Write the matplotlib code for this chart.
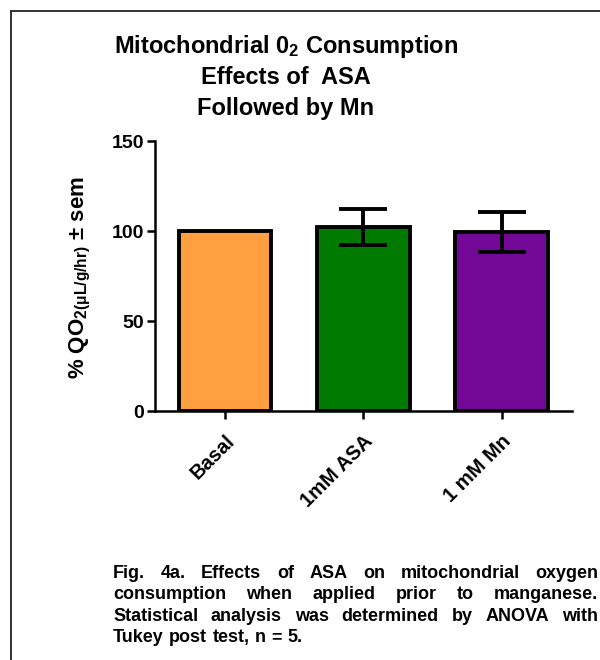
import matplotlib
matplotlib.use("Agg")
import matplotlib.pyplot as plt
from matplotlib.patches import Rectangle

plt.rcParams['font.family'] = ['Liberation Sans', 'DejaVu Sans']
plt.rcParams['font.weight'] = 'bold'
plt.rcParams['mathtext.default'] = 'regular'

categories = ["Basal", "1mM ASA", "1 mM Mn"]
means = [100.0, 102.5, 99.5]
sems = [0.0, 10.0, 11.2]
colors = ["#FF9F40", "#007A00", "#730896"]
yticks = [0, 50, 100, 150]
title_lines = ["Mitochondrial 0$_2$ Consumption", "Effects of  ASA", "Followed by Mn"]
ylabel = "% QO$_{2(\\mu L/g/hr)}$ ± sem"
caption = ["Fig. 4a.  Effects of ASA on mitochondrial oxygen",
           "consumption when applied prior to manganese.",
           "Statistical analysis was determined by ANOVA with",
           "Tukey post test, n = 5."]

W, H = 600, 660
fig = plt.figure(figsize=(W/100, H/100), dpi=100)
fig.patch.set_facecolor("white")

# outer frame
fig.patches.append(Rectangle((11/W, -0.2), 2.0, 1.2 - 11/H, transform=fig.transFigure,
                             fill=False, edgecolor="#222222", linewidth=1.3))

ax = fig.add_axes([155/W, 1-411/H, (572-155)/W, (411-141)/H])
x = list(range(len(categories)))
ax.bar(x, means, width=0.67, color=colors, edgecolor="black", linewidth=2.8, zorder=2)
ax.errorbar(x[1:], means[1:], yerr=sems[1:], fmt="none", ecolor="black",
            elinewidth=2.8, capsize=17, capthick=2.8, zorder=3)
ax.set_xlim(-0.507, 2.51)
ax.set_ylim(0, 150)
ax.set_yticks(yticks)
ax.set_yticklabels([str(v) for v in yticks], fontsize=14, fontweight="bold")
ax.set_xticks(x)
ax.set_xticklabels(categories, rotation=45, ha="right", va="top",
                   rotation_mode="anchor", fontsize=14.5, fontweight="bold")
for s in ["top", "right"]:
    ax.spines[s].set_visible(False)
for s in ["left", "bottom"]:
    ax.spines[s].set_linewidth(1.8)
ax.tick_params(axis="both", direction="out", width=1.8, length=6, pad=2)
ax.tick_params(axis="x", pad=9)

fig.text(80/W, 1-278/H, ylabel, rotation=90, ha="center", va="center",
         fontsize=16, fontweight="bold")

for i, line in enumerate(title_lines):
    fig.text(286/W, 1-(47 + 31*i)/H, line, ha="center", va="center",
             fontsize=17, fontweight="bold")

# justified caption
renderer = fig.canvas.get_renderer()
x0, x1 = 113, 598
baselines = [578, 599, 621, 642]
fs = 13
for li, line in enumerate(caption):
    words = line.split()
    if li == 0:
        words = ["Fig.", "4a.", "Effects", "of", "ASA", "on", "mitochondrial", "oxygen"]
    texts = [fig.text(0, 1-baselines[li]/H, w, ha="left", va="baseline", fontsize=fs,
                      fontweight="bold") for w in words]
    widths = [t.get_window_extent(renderer).width for t in texts]
    if li < len(caption)-1 and len(words) > 1:
        gap = (x1 - x0 - sum(widths)) / (len(words)-1)
    else:
        gap = renderer.points_to_pixels(fs) * 0.3
    cx = x0
    for t, wdt in zip(texts, widths):
        t.set_x(cx/W)
        cx += wdt + gap

fig.savefig("out.png", dpi=100)
